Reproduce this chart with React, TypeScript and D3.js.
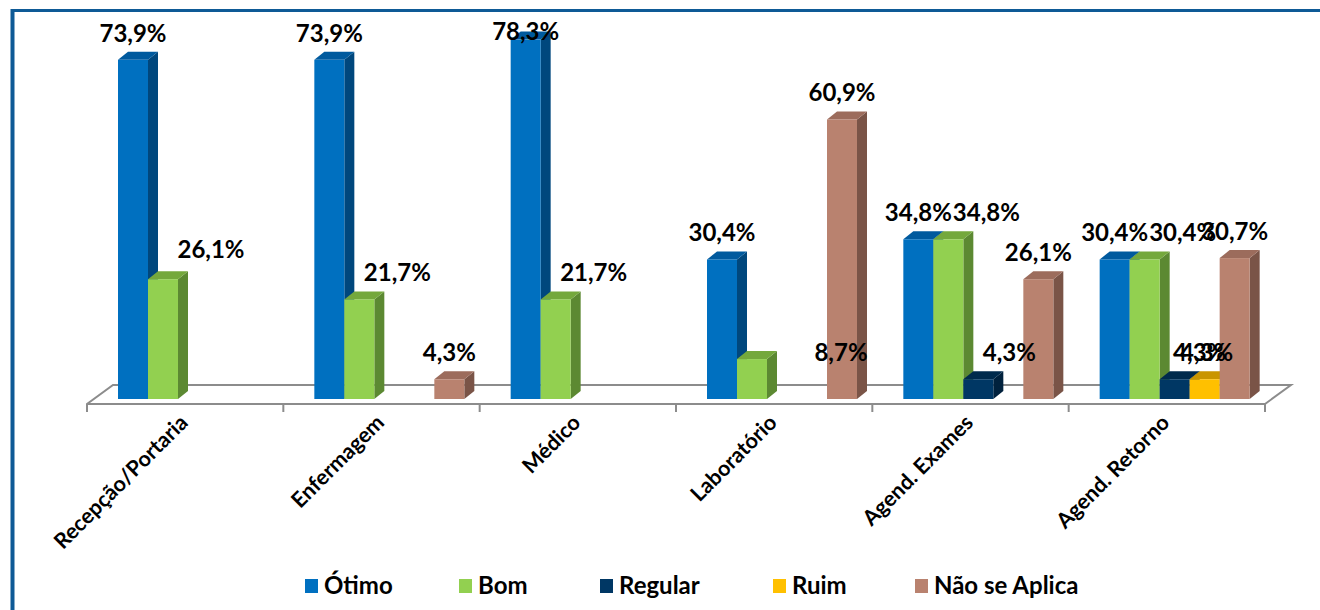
import React from "react";
import * as d3 from "d3";

const categories = ["Recepção/Portaria", "Enfermagem", "Médico", "Laboratório", "Agend. Exames", "Agend. Retorno"];
const seriesNames = ["Ótimo", "Bom", "Regular", "Ruim", "Não se Aplica"];
const otimo = [73.9, 73.9, 78.3, 30.4, 34.8, 30.4];
const bom = [26.1, 21.7, 21.7, 8.7, 34.8, 30.4];
const regular = [0, 0, 0, 0, 4.3, 4.3];
const ruim = [0, 0, 0, 0, 0, 4.3];
const naoSeAplica = [0, 4.3, 0, 60.9, 26.1, 30.7];
const seriesValues = [otimo, bom, regular, ruim, naoSeAplica];

// styling
const FRONT = ["#0070C0", "#92D050", "#003764", "#FFC000", "#B9826F"];
const TOP = ["#005A9E", "#74A83C", "#002A4C", "#C99500", "#9C6C5C"];
const SIDE = ["#00477D", "#5C8932", "#00213D", "#B08300", "#7A5447"];

// label nudges (layout only)
const seriesNudge = [[0, 0], [38, 0], [25, 0], [2, 0], [0, 0]];
const labelOverride: Record<string, [number, number]> = {
  "0|1": [48, -3],
  "3|1": [89, 20],
  "4|2": [31, 0],
};

const FONT = "Lato, 'Open Sans', sans-serif";

export default function App() {
  const floorLeft = 87;
  const floorRight = 1265;
  const frontY = 404;
  const backY = 385;
  const fdx = 26;
  const baseY = 399;
  const bw = 30;
  const ddx = 10;
  const ddy = -8;

  const x = d3.scaleBand<string>().domain(categories).range([floorLeft, floorRight]).paddingInner(0).paddingOuter(0);
  const y = d3.scaleLinear().domain([0, 80]).range([baseY, baseY - 80 * 4.59]);
  const catW = x.bandwidth();

  const bars: JSX.Element[] = [];
  const labels: JSX.Element[] = [];

  categories.forEach((c, ci) => {
    const cx0 = (x(c) as number) + 31;
    seriesValues.forEach((vals, si) => {
      const v = vals[ci];
      if (!v) return;
      const x0 = cx0 + si * bw;
      const x1 = x0 + bw;
      const yt = y(v);
      bars.push(
        <g key={`b${ci}-${si}`}>
          <polygon
            points={`${x1},${baseY} ${x1 + ddx},${baseY + ddy} ${x1 + ddx},${yt + ddy} ${x1},${yt}`}
            fill={SIDE[si]}
          />
          <polygon
            points={`${x0},${yt} ${x0 + ddx},${yt + ddy} ${x1 + ddx},${yt + ddy} ${x1},${yt}`}
            fill={TOP[si]}
          />
          <rect x={x0} y={yt} width={bw} height={baseY - yt} fill={FRONT[si]} />
        </g>
      );
      const key = `${ci}|${si}`;
      const nud = labelOverride[key] || seriesNudge[si];
      const lx = x0 + bw / 2 + nud[0];
      const ly = Math.max(40, yt - 18) + nud[1];
      labels.push(
        <text key={`l${ci}-${si}`} x={lx} y={ly} textAnchor="middle" fontFamily={FONT} fontWeight={700} fontSize={24} fill="#000">
          {v.toFixed(1).replace(".", ",")}%
        </text>
      );
    });
  });

  const ticks = d3.range(categories.length + 1).map((i) => floorLeft + i * catW);

  const legendX = [305, 459, 600, 773, 915];

  return (
    <div style={{ position: "absolute", left: 0, top: 0 }}>
      <svg width={1320} height={610} style={{ display: "block" }}>
        <rect x={0} y={0} width={1320} height={610} fill="#fff" />
        {/* border */}
        <line x1={12.5} y1={10.5} x2={1320} y2={10.5} stroke="#0E5A96" strokeWidth={3} />
        <line x1={12.5} y1={9} x2={12.5} y2={610} stroke="#0E5A96" strokeWidth={4} />
        {/* floor */}
        <polyline
          points={`${floorLeft},${frontY + 8} ${floorLeft},${frontY} ${floorLeft + fdx},${backY} ${floorRight + fdx},${backY} ${floorRight},${frontY} ${floorLeft},${frontY}`}
          fill="none"
          stroke="#8C8C8C"
          strokeWidth={2}
        />
        {ticks.map((t, i) => (
          <line key={`t${i}`} x1={t} y1={frontY} x2={t} y2={frontY + 8} stroke="#8C8C8C" strokeWidth={2} />
        ))}
        {bars}
        {labels}
        {categories.map((c) => {
          const cx = (x(c) as number) + catW / 2 + 4;
          const cy = 424;
          return (
            <text
              key={`c${c}`}
              transform={`translate(${cx},${cy}) rotate(-45)`}
              textAnchor="end"
              fontFamily={FONT}
              fontWeight={700}
              fontSize={21.5}
              fill="#000"
            >
              {c}
            </text>
          );
        })}
        {seriesNames.map((n, i) => (
          <g key={`lg${i}`}>
            <rect x={legendX[i]} y={579} width={13} height={14} fill={FRONT[i]} />
            <text x={legendX[i] + 19} y={594} fontFamily={FONT} fontWeight={700} fontSize={24} fill="#000">
              {n}
            </text>
          </g>
        ))}
      </svg>
    </div>
  );
}
